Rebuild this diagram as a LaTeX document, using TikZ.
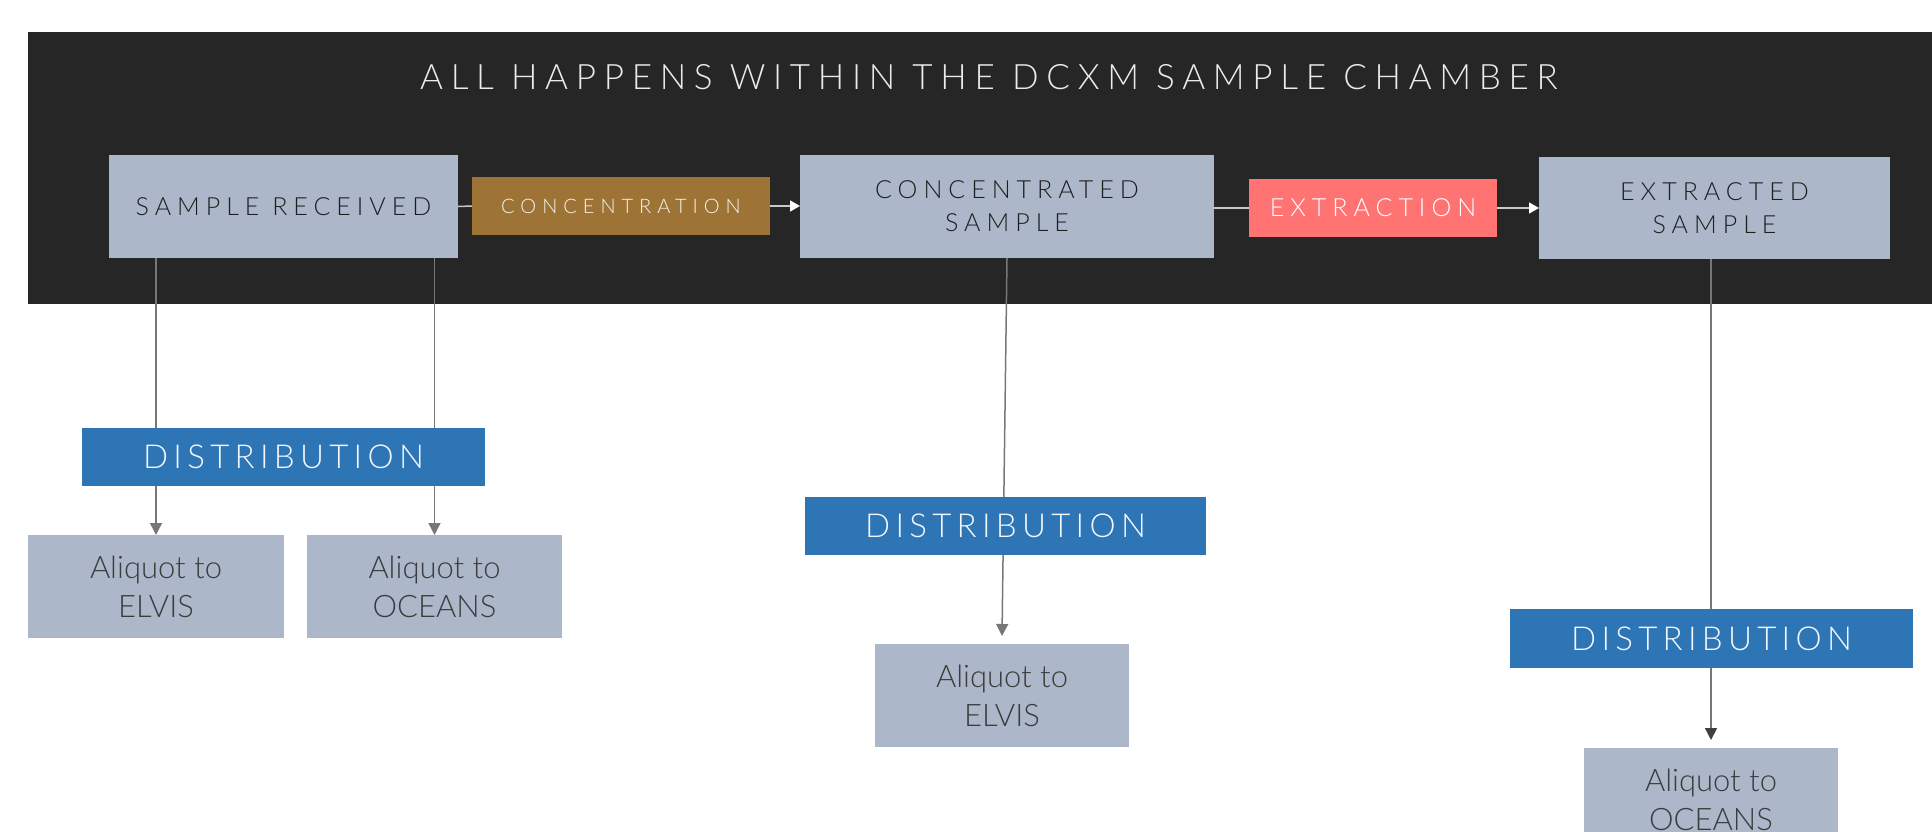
\documentclass[tikz,border=0pt]{standalone}
\usepackage{fontspec}
\setmainfont{Lato Light}
\newfontfamily\titlefont{Lato Light}[LetterSpace=22]
\newfontfamily\stagefont{Lato Light}[LetterSpace=24]
\newfontfamily\stepfont{Lato Light}[LetterSpace=30]
\newfontfamily\distfont{Lato Light}[LetterSpace=16]
\usetikzlibrary{arrows.meta}
\pgfdeclarelayer{back}
\pgfdeclarelayer{wires}
\pgfsetlayers{back,wires,main}

\definecolor{bandc}{HTML}{262626}
\definecolor{stagefill}{HTML}{ACB8CA}
\definecolor{stagetext}{HTML}{1E1E1E}
\definecolor{concc}{HTML}{9D7436}
\definecolor{extrc}{HTML}{FF7373}
\definecolor{distc}{HTML}{2E75B6}
\definecolor{wirec}{HTML}{777777}
\definecolor{bandwirec}{HTML}{C8C8C8}
\definecolor{aliqtext}{HTML}{3C3C3C}

\tikzset{
  box/.style={anchor=north west, inner sep=0pt, outer sep=0pt, align=center},
  stagebox/.style={box, fill=stagefill, text=stagetext,
    font=\stagefont\fontsize{25}{33}\selectfont},
  conctag/.style={box, fill=concc, text=white!92!concc,
    font=\stepfont\fontsize{20}{24}\selectfont},
  extrtag/.style={box, fill=extrc, text=white,
    font=\stagefont\fontsize{25}{30}\selectfont},
  disttag/.style={box, fill=distc, text=white!94!distc,
    font=\distfont\fontsize{33}{38}\selectfont},
  aliquot/.style={box, fill=stagefill, text=aliqtext,
    font=\fontsize{31}{39}\selectfont},
  bandline/.style={draw=bandwirec, line width=1.5pt},
  bandarrow/.style={bandline, -{Triangle[length=10pt,width=11pt,fill=white,color=white]}},
  downarrow/.style={draw=wirec, line width=1.5pt, -{Triangle[length=12pt,width=12pt]}},
}

\begin{document}
\begin{tikzpicture}[x=1pt,y=-1pt]
\useasboundingbox (0,0) rectangle (1932,832);
\clip (0,0) rectangle (1932,832);

% dark chamber band with its heading
\begin{pgfonlayer}{back}
\node[box, fill=bandc, minimum width=1904pt, minimum height=272pt] (chamber) at (28,32) {};
\node[anchor=base, inner sep=0pt, text=white!92!black,
      font=\titlefont\fontsize{35}{40}\selectfont] (heading) at (989,90)
      {ALL HAPPENS WITHIN THE DCXM SAMPLE CHAMBER};
\end{pgfonlayer}

% sample stages inside the chamber
\node[stagebox, minimum width=349pt, minimum height=103pt] (received) at (109,155) {SAMPLE RECEIVED};
\node[conctag, minimum width=298pt, minimum height=58pt] (conc) at (472,177) {CONCENTRATION};
\node[stagebox, minimum width=414pt, minimum height=103pt] (concsample) at (800,155) {CONCENTRATED\\SAMPLE};
\node[extrtag, minimum width=248pt, minimum height=58pt] (extr) at (1249,179) {EXTRACTION};
\node[stagebox, minimum width=351pt, minimum height=102pt] (extrsample) at (1539,157) {EXTRACTED\\SAMPLE};

% distribution steps and aliquots
\node[disttag, minimum width=403pt, minimum height=58pt] (dist1) at (82,428) {DISTRIBUTION};
\node[aliquot, minimum width=256pt, minimum height=103pt] (elvis1) at (28,535) {Aliquot to\\ELVIS};
\node[aliquot, minimum width=255pt, minimum height=103pt] (oceans1) at (307,535) {Aliquot to\\OCEANS};

\node[disttag, minimum width=401pt, minimum height=58pt] (dist2) at (805,497) {DISTRIBUTION};
\node[aliquot, minimum width=254pt, minimum height=103pt] (elvis2) at (875,644) {Aliquot to\\ELVIS};

\node[disttag, minimum width=403pt, minimum height=59pt] (dist3) at (1510,609) {DISTRIBUTION};
\node[aliquot, minimum width=254pt, minimum height=103pt] (oceans2) at (1584,748) {Aliquot to\\OCEANS};

% connectors, kept behind the boxes
\begin{pgfonlayer}{wires}
\draw[bandline] (received.east) -- (conc.west);
\draw[bandarrow] (conc.east) -- (concsample.west |- conc.east);
\draw[bandline] (extr.west -| concsample.east) -- (extr.west);
\draw[bandarrow] (extr.east) -- (extrsample.west |- extr.east);

\draw[downarrow] (elvis1.north |- received.south) -- (elvis1.north);
\draw[downarrow] (oceans1.north |- received.south) -- (oceans1.north);
\draw[downarrow] (concsample.south) -- ([yshift=8pt]elvis2.north);
\draw[downarrow, -{Triangle[length=12pt,width=12pt,color=black!75]}] (oceans2.north |- extrsample.south) -- ([yshift=8pt]oceans2.north);
\end{pgfonlayer}
\end{tikzpicture}
\end{document}
